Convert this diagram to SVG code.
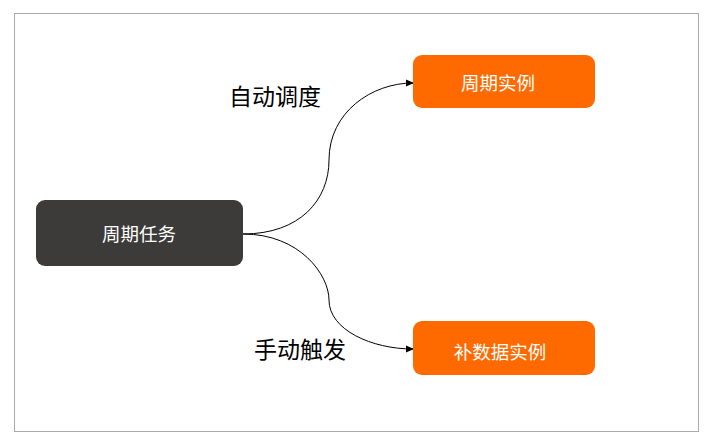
<svg xmlns="http://www.w3.org/2000/svg" width="712" height="441" viewBox="0 0 712 441">
<style>
.lbl{font-family:"Noto Sans CJK SC","Noto Sans",sans-serif;font-size:18.5px;fill:#ffffff;text-anchor:middle;dominant-baseline:central}
.edge-lbl{font-family:"Noto Sans CJK SC","Noto Sans",sans-serif;font-size:23px;fill:#000000;text-anchor:middle;dominant-baseline:central}
.edge{fill:none;stroke:#000;stroke-width:1;marker-end:url(#arr)}
</style>
<defs>
<marker id="arr" markerWidth="8" markerHeight="8" refX="7" refY="4" orient="auto" markerUnits="userSpaceOnUse">
<path d="M0,0.5 L8,4 L0,7.5 Z" fill="#000"/>
</marker>
</defs>
<rect x="0" y="0" width="712" height="441" fill="#fff"/>
<rect x="14.5" y="13.5" width="684" height="418" fill="#fff" stroke="#aaaaaa" stroke-width="1"/>
<g id="connectors">
<path class="edge" d="M243,234 C300,234 329,200 329,160 C329,112 372,83 413,83"/>
<path class="edge" d="M243,234 C300,234 329,275 329,300 C329,330 372,349 413,349"/>
<text class="edge-lbl" x="275" y="95">自动调度</text>
<text class="edge-lbl" x="300" y="348">手动触发</text>
</g>
<g id="task">
<rect x="36" y="200" width="207" height="66" rx="9" fill="#3c3b3a"/>
<text class="lbl" x="139" y="233">周期任务</text>
</g>
<g id="cycle-instance">
<rect x="413" y="55" width="182" height="53" rx="9" fill="#ff6a00"/>
<text class="lbl" x="498" y="82">周期实例</text>
</g>
<g id="backfill-instance">
<rect x="413" y="321" width="182" height="54" rx="9" fill="#ff6a00"/>
<text class="lbl" x="500" y="351">补数据实例</text>
</g>
</svg>
